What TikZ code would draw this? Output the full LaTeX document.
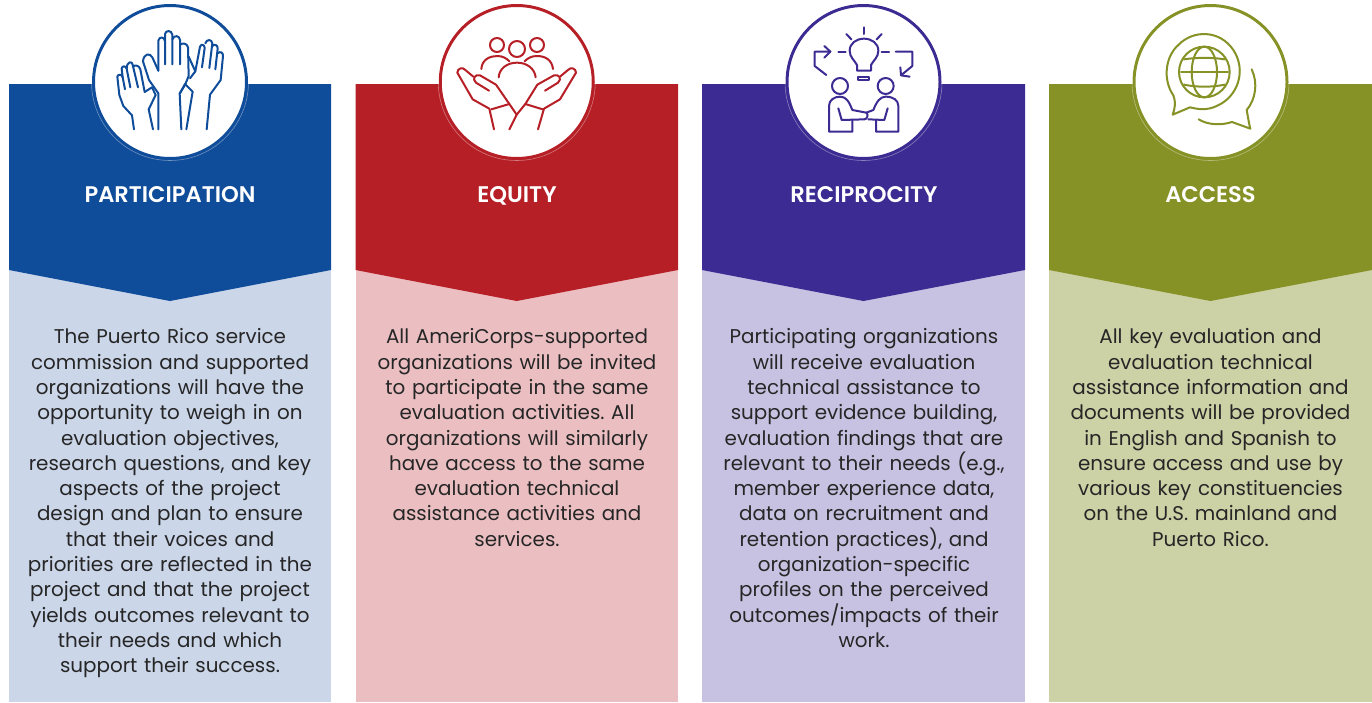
\documentclass[tikz,border=0pt]{standalone}
\usepackage{fontspec}
\setmainfont[BoldFont={Poppins SemiBold}]{Poppins}
\frenchspacing
\definecolor{cA}{HTML}{0F4C9A}\definecolor{cB}{HTML}{B71F26}\definecolor{cC}{HTML}{3C2B92}\definecolor{cD}{HTML}{869226}
\definecolor{lA}{HTML}{CBD6E9}\definecolor{lB}{HTML}{EBBFC2}\definecolor{lC}{HTML}{C7C2E1}\definecolor{lD}{HTML}{CDD1A6}
\newcommand{\bodyfont}{\fontsize{19.9}{25.3}\selectfont}
\newcommand{\headfont}{\fontsize{22.6}{25}\selectfont\bfseries}
\tikzset{
 bodytext/.style={anchor=north,align=center,text width=322pt,inner sep=0pt,font=\bodyfont,text=black!85},
 headtext/.style={anchor=base,inner sep=0pt,font=\headfont,text=white},
 iconline/.style={line width=2pt,line cap=round,line join=round,fill=none}
}
\begin{document}
\begin{tikzpicture}[x=1pt,y=-1pt]
\useasboundingbox (0,0) rectangle (1372,702);
\fill[white] (0,0) rectangle (1372,702);
\newcommand{\panel}[5]{% x0, x1, dark, light, name
 \fill[#4] (#1,270) rectangle (#2,702);
 \fill[#3] (#1,84) -- (#2,84) -- (#2,270) -- ({(#1+#2)/2},301) -- (#1,270) -- cycle;
 \fill[white,draw=#3,line width=3pt] ({(#1+#2)/2},82) circle (76.5);
 \draw[white,opacity=.4,line width=.6pt] ({(#1+#2)/2},82) circle (78.5);
}
\panel{9}{331}{cA}{lA}{a}
\panel{355.5}{678}{cB}{lB}{b}
\panel{702}{1025}{cC}{lC}{c}
\panel{1049}{1372}{cD}{lD}{d}
% hands
\begin{scope}[shift={(70,0)},scale=1/3,iconline,draw=cA]
\draw (192,388) -- (186,346) -- (160,318) -- (148,285) -- (142,230) .. controls (143,222) and (157,222) .. (158,232) -- (165,268);
\draw (158,232) -- (155,205) .. controls (157,196) and (168,198) .. (170,206) -- (181,262);
\draw (170,206) .. controls (170,184) and (187,182) .. (188,194) -- (204,262);
\draw (188,200) .. controls (195,194) and (208,196) .. (211,208) -- (224,276);
\draw (224,276) -- (246,262) -- (257,285) -- (236,328) -- (249,388);
\draw (265,388) -- (265,280) -- (237,240) -- (219,184) .. controls (221,160) and (240,158) .. (247,172) -- (265,212);
\draw (265,212) -- (265,122) .. controls (268,108) and (284,110) .. (285,124) -- (285,193);
\draw (285,124) -- (285,102) .. controls (287,90) and (305,90) .. (307,104) -- (307,193);
\draw (307,118) .. controls (312,104) and (329,106) .. (330,120) -- (330,193);
\draw (330,134) .. controls (338,128) and (352,130) .. (354,142) -- (356,228) -- (345,255) -- (329,280) -- (334,388);
\draw (349,388) -- (368,275) -- (345,252) -- (330,280);
\draw (356,170) -- (376,214) -- (390,140) .. controls (394,130) and (404,134) .. (404,144) -- (396,202);
\draw (406,130) .. controls (410,116) and (426,118) .. (427,130) -- (418,204);
\draw (427,138) .. controls (434,130) and (444,136) .. (443,146) -- (436,208);
\draw (443,160) .. controls (450,152) and (460,158) .. (459,168) -- (452,240) -- (420,284) -- (410,388);
\draw (376,214) -- (360,235);
\end{scope}
% people and hands
\begin{scope}[shift={(420,0)},scale=1/3,iconline,draw=cB]
\draw (231,135) circle (21);
\draw (291,147) circle (24);
\draw (351,135) circle (21);
\draw (184,207) .. controls (186,178) and (210,168) .. (232,168) .. controls (248,168) and (260,175) .. (268,184);
\draw (314,184) .. controls (322,175) and (334,168) .. (351,168) .. controls (376,168) and (396,180) .. (399,207);
\draw (236,232) .. controls (238,205) and (262,188) .. (291,188) .. controls (320,188) and (344,205) .. (347,232);
\draw (222,388) -- (208,326) -- (158,298) -- (112,218) .. controls (112,205) and (128,200) .. (136,210) -- (160,230);
\draw (207,272) -- (168,248) .. controls (155,236) and (165,222) .. (180,226) -- (228,254) -- (268,312) -- (290,344) -- (268,388);
\draw (214,328) -- (268,312);
\draw (354,388) -- (372,326) -- (420,298) -- (468,218) .. controls (468,205) and (452,200) .. (444,210) -- (420,230);
\draw (375,272) -- (414,248) .. controls (427,236) and (417,222) .. (402,226) -- (352,254) -- (316,312) -- (290,344);
\draw (368,328) -- (316,312);
\end{scope}
% idea and people
\begin{scope}[shift={(765,0)},scale=1/3,iconline,draw=cC]
\draw (276,212) -- (276,195) .. controls (268,180) and (254,172) .. (254,152) .. controls (254,130) and (274,116) .. (297,116) .. controls (320,116) and (340,130) .. (340,152) .. controls (340,172) and (326,180) .. (318,195) -- (318,212) -- cycle;
\draw (280,232) rectangle (312,240);
\draw (297,82) -- (297,102);
\draw (244,102) -- (259,118);
\draw (350,102) -- (335,118);
\draw (220,155) -- (242,155);
\draw (350,155) -- (372,155);
\draw (196,155) -- (149,155) -- (149,198) -- (184,225);
\draw (178,138) -- (196,155) -- (178,173);
\draw (392,155) -- (442,155) -- (442,198) -- (408,226);
\draw (406,202) -- (408,226) -- (434,230);
\draw (225,258) circle (24);
\draw (362,258) circle (24);
\draw (262,360) -- (262,395) -- (192,395) -- (192,318) .. controls (192,300) and (208,290) .. (225,290) .. controls (244,290) and (252,305) .. (262,330) -- (304,338) .. controls (312,345) and (306,358) .. (298,358);
\draw (220,325) -- (230,360) -- (298,358);
\draw (333,360) -- (333,395) -- (400,395) -- (400,318) .. controls (400,300) and (384,290) .. (362,290) .. controls (345,290) and (335,305) .. (325,330) -- (304,338);
\draw (368,325) -- (358,360) -- (310,358);
\end{scope}
% globe and speech
\begin{scope}[shift={(1110,0)},scale=1/3,iconline,draw=cD]
\draw (190,286) .. controls (158,240) and (165,170) .. (205,135) .. controls (250,88) and (330,90) .. (370,150) .. controls (410,210) and (385,290) .. (320,318) .. controls (290,332) and (265,328) .. (240,322) -- (188,344) .. controls (195,325) and (198,305) .. (190,286) -- cycle;
\draw (283,216) circle (76);
\draw (283,216) ellipse (38 and 76);
\draw (213,216) -- (354,216);
\draw (222,178) .. controls (260,172) and (306,172) .. (344,178);
\draw (222,254) .. controls (260,262) and (306,262) .. (344,254);
\draw (425,208) .. controls (445,250) and (436,300) .. (410,330) .. controls (414,350) and (416,368) .. (421,386) -- (366,366) .. controls (335,376) and (295,376) .. (266,358);
\end{scope}
\node[headtext] (ha) at (170,202) {PARTICIPATION};
\node[headtext] (hb) at (517,202) {EQUITY};
\node[headtext] (hc) at (864,202) {RECIPROCITY};
\node[headtext] (hd) at (1210.5,202) {ACCESS};
\node[bodytext] (ta) at (170,328.5) {The Puerto Rico service\\commission and supported\\organizations will have the\\opportunity to weigh in on\\evaluation objectives,\\research questions, and key\\aspects of the project\\design and plan to ensure\\that their voices and\\priorities are reflected in the\\project and that the project\\yields outcomes relevant to\\their needs and which\\support their success.};
\node[bodytext] (tb) at (517,328.5) {All AmeriCorps-supported\\organizations will be invited\\to participate in the same\\evaluation activities. All\\organizations will similarly\\have access to the same\\evaluation technical\\assistance activities and\\services.};
\node[bodytext] (tc) at (864,328.5) {Participating organizations\\will receive evaluation\\technical assistance to\\support evidence building,\\evaluation findings that are\\relevant to their needs (e.g.,\\member experience data,\\data on recruitment and\\retention practices), and\\organization-specific\\profiles on the perceived\\outcomes/impacts of their\\work.};
\node[bodytext] (td) at (1210.5,328.5) {All key evaluation and\\evaluation technical\\assistance information and\\documents will be provided\\in English and Spanish to\\ensure access and use by\\various key constituencies\\on the U.S. mainland and\\Puerto Rico.};
\end{tikzpicture}
\end{document}
